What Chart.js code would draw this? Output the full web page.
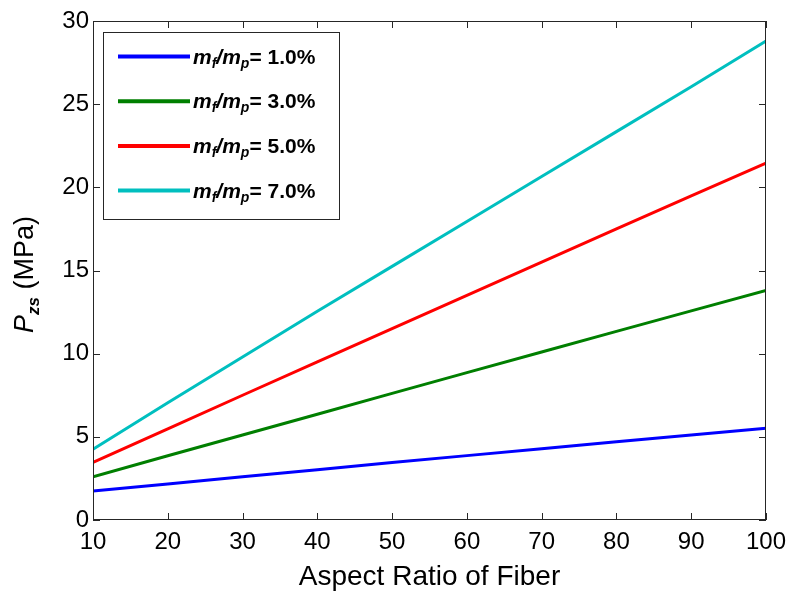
<!DOCTYPE html>
<html>
<head>
<meta charset="utf-8">
<script src="https://cdn.jsdelivr.net/npm/chart.js@4.4.0/dist/chart.umd.min.js"></script>
<style>
  html, body { margin: 0; padding: 0; background: #fff; }
  #wrap { width: 799px; height: 594px; }
</style>
</head>
<body>
<div id="wrap"><canvas id="chart" width="799" height="594"></canvas></div>
<script>
// ---------------------
// DATA
// ---------------------
const aspectRatio = [10, 20, 30, 40, 50, 60, 70, 80, 90, 100];
const pzs1 = [1.74, 2.17, 2.60, 3.02, 3.45, 3.87, 4.28, 4.70, 5.11, 5.52];
const pzs3 = [2.60, 3.86, 5.11, 6.36, 7.61, 8.86, 10.10, 11.34, 12.57, 13.80];
const pzs5 = [3.46, 5.48, 7.50, 9.50, 11.50, 13.50, 15.50, 17.50, 19.48, 21.45];
const pzs7 = [4.26, 7.05, 9.80, 12.55, 15.25, 17.95, 20.65, 23.35, 26.05, 28.80];
const ratioLabels = ["1.0%", "3.0%", "5.0%", "7.0%"];
const xTicks = [10, 20, 30, 40, 50, 60, 70, 80, 90, 100];
const yTicks = [0, 5, 10, 15, 20, 25, 30];

const lineColors = ["#0000ff", "#007f00", "#ff0000", "#00bfbf"];
const FONT = "'Liberation Sans', Arial, Helvetica, sans-serif";

function toPoints(ys) {
  return aspectRatio.map((x, i) => ({ x, y: ys[i] }));
}

const seriesList = [pzs1, pzs3, pzs5, pzs7];

// ---------------------
// FRAME + INWARD TICKS (matlab style)
// ---------------------
const framePlugin = {
  id: "frame",
  afterDraw(chart) {
    const { ctx, chartArea: a, scales } = chart;
    ctx.save();
    ctx.strokeStyle = "#262626";
    ctx.lineWidth = 1;
    ctx.strokeRect(a.left + 0.5, a.top + 0.5, a.right - a.left - 1, a.bottom - a.top - 1);
    const len = 7;
    ctx.beginPath();
    xTicks.forEach((v) => {
      const px = Math.round(scales.x.getPixelForValue(v)) + 0.5;
      ctx.moveTo(px, a.bottom);
      ctx.lineTo(px, a.bottom - len);
      ctx.moveTo(px, a.top);
      ctx.lineTo(px, a.top + len);
    });
    yTicks.forEach((v) => {
      const py = Math.round(scales.y.getPixelForValue(v)) + 0.5;
      ctx.moveTo(a.left, py);
      ctx.lineTo(a.left + len, py);
      ctx.moveTo(a.right, py);
      ctx.lineTo(a.right - len, py);
    });
    ctx.stroke();
    ctx.restore();
  },
};

// ---------------------
// Y TITLE: P_zs (MPa) with subscript
// ---------------------
const yTitlePlugin = {
  id: "ytitle",
  afterDraw(chart) {
    const { ctx } = chart;
    const a = chart.chartArea;
    ctx.save();
    ctx.translate(33, (a.top + a.bottom) / 2 + 4);
    ctx.rotate(-Math.PI / 2);
    ctx.fillStyle = "#000";
    ctx.textBaseline = "alphabetic";
    const parts = [
      { t: "P", f: `italic 27px ${FONT}`, dy: 0 },
      { t: "zs", f: `italic bold 17px ${FONT}`, dy: 6 },
      { t: " (MPa)", f: `27px ${FONT}`, dy: 0 },
    ];
    let w = 0;
    parts.forEach((p) => { ctx.font = p.f; w += ctx.measureText(p.t).width; });
    let x = -w / 2;
    parts.forEach((p) => {
      ctx.font = p.f;
      ctx.fillText(p.t, x, p.dy);
      x += ctx.measureText(p.t).width;
    });
    ctx.restore();
  },
};

// ---------------------
// LEGEND: m_f/m_p = x%
// ---------------------
const legendPlugin = {
  id: "mlegend",
  afterDraw(chart) {
    const { ctx } = chart;
    const a = chart.chartArea;
    const bx = a.left + 10, by = a.top + 11, bw = 236, bh = 187;
    ctx.save();
    ctx.fillStyle = "#fff";
    ctx.fillRect(bx, by, bw, bh);
    ctx.strokeStyle = "#262626";
    ctx.lineWidth = 1;
    ctx.strokeRect(bx + 0.5, by + 0.5, bw, bh);

    chart.data.datasets.forEach((ds, i) => {
      const cy = by + 24.5 + i * 44.7;
      ctx.strokeStyle = ds.borderColor;
      ctx.lineWidth = 4;
      ctx.beginPath();
      ctx.moveTo(bx + 15, cy);
      ctx.lineTo(bx + 87, cy);
      ctx.stroke();

      ctx.fillStyle = "#000";
      const base = cy + 7;
      const parts = [
        { t: "m", f: `italic bold 21px ${FONT}`, dy: 0 },
        { t: "f", f: `italic bold 14px ${FONT}`, dy: 4 },
        { t: "/", f: `italic bold 21px ${FONT}`, dy: 0 },
        { t: "m", f: `italic bold 21px ${FONT}`, dy: 0 },
        { t: "p", f: `italic bold 14px ${FONT}`, dy: 4 },
        { t: "= " + ratioLabels[i], f: `bold 21px ${FONT}`, dy: 0 },
      ];
      let x = bx + 90;
      parts.forEach((p) => {
        ctx.font = p.f;
        ctx.fillText(p.t, x, base + p.dy);
        x += ctx.measureText(p.t).width;
      });
    });
    ctx.restore();
  },
};

// ---------------------
// CHART
// ---------------------
new Chart(document.getElementById("chart"), {
  type: "line",
  data: {
    datasets: seriesList.map((ys, i) => ({
      label: "m_f/m_p = " + ratioLabels[i],
      data: toPoints(ys),
      borderColor: lineColors[i],
      backgroundColor: lineColors[i],
      borderWidth: 3,
      pointRadius: 0,
      tension: 0,
    })),
  },
  options: {
    responsive: false,
    devicePixelRatio: 1,
    animation: false,
    layout: { padding: { top: 21, right: 33, left: 0, bottom: 0 } },
    plugins: {
      legend: { display: false },
      tooltip: { enabled: false },
    },
    scales: {
      x: {
        type: "linear",
        min: 10,
        max: 100,
        afterFit: (s) => { s.height = 74; },
        afterBuildTicks: (s) => { s.ticks = xTicks.map((v) => ({ value: v })); },
        grid: { display: false, drawTicks: false },
        border: { display: false },
        ticks: { padding: 8, color: "#000", font: { family: FONT, size: 24 }, maxRotation: 0 },
        title: {
          display: true,
          text: "Aspect Ratio of Fiber",
          color: "#000",
          font: { family: FONT, size: 28 },
          padding: { top: 0, bottom: 0 },
        },
      },
      y: {
        min: 0,
        max: 30,
        afterFit: (s) => { s.width = 93; },
        afterBuildTicks: (s) => { s.ticks = yTicks.map((v) => ({ value: v })); },
        grid: { display: false, drawTicks: false },
        border: { display: false },
        ticks: { padding: 4, color: "#000", font: { family: FONT, size: 24 } },
      },
    },
  },
  plugins: [framePlugin, yTitlePlugin, legendPlugin],
});
</script>
</body>
</html>
